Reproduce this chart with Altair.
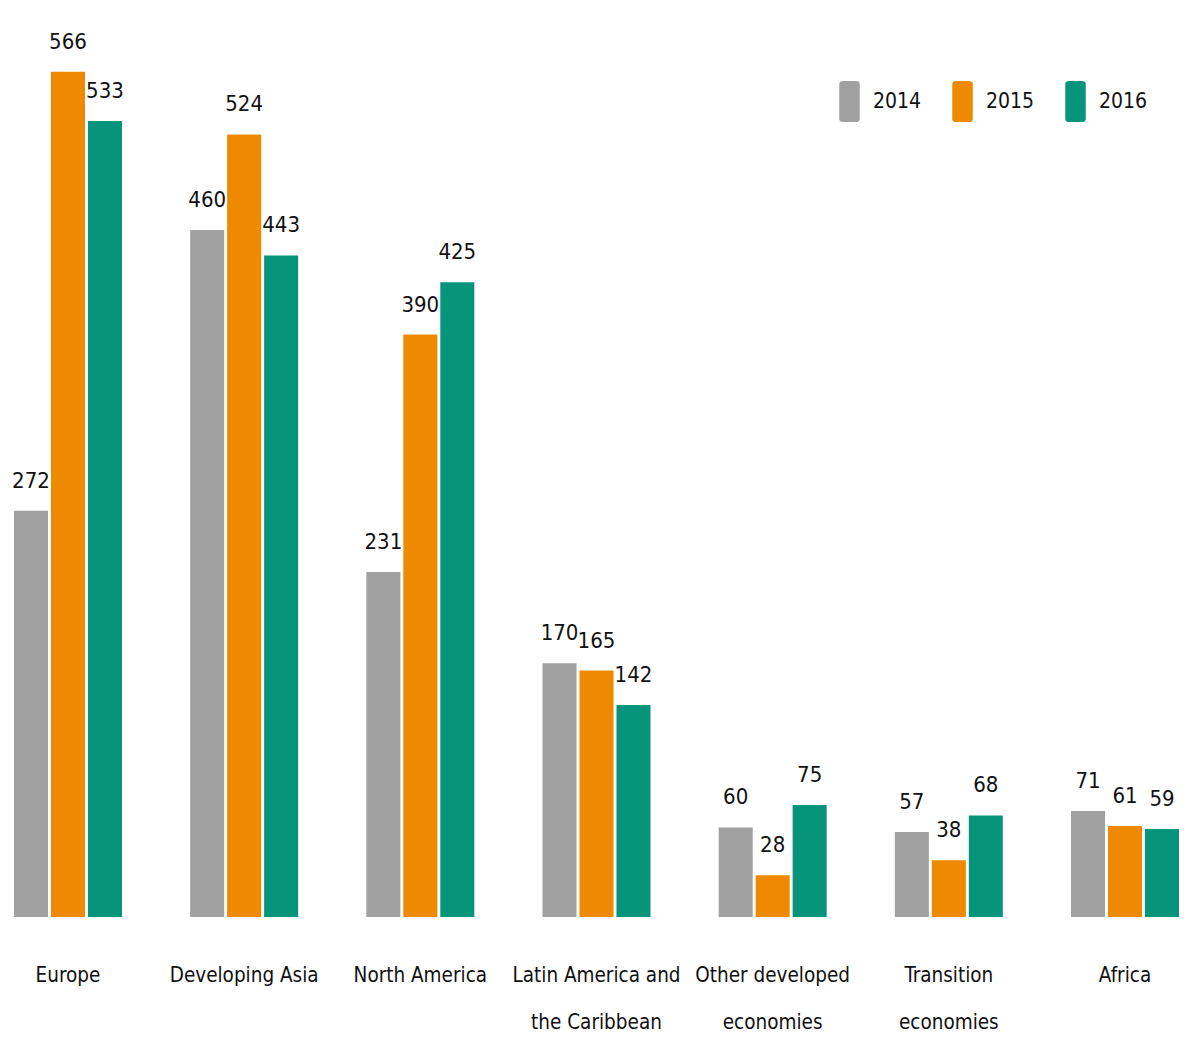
import altair as alt
import pandas as pd

regions = ["Europe", "Developing Asia", "North America",
           "Latin America and|the Caribbean", "Other developed|economies",
           "Transition|economies", "Africa"]
years = ["2014", "2015", "2016"]
v2014 = [272, 460, 231, 170, 60, 57, 71]
v2015 = [566, 524, 390, 165, 28, 38, 61]
v2016 = [533, 443, 425, 142, 75, 68, 59]

rows = []
for i, r in enumerate(regions):
    for y, vals in zip(years, [v2014, v2015, v2016]):
        rows.append({"region": r, "year": y, "value": vals[i]})
df = pd.DataFrame(rows)

FONT = "Liberation Sans Narrow, Arial Narrow, DejaVu Sans Condensed, sans-serif"
colors = ["#a0a0a0", "#ee8900", "#06957a"]

sym = ("M-0.3,-1 L0.3,-1 Q0.5,-1 0.5,-0.85 L0.5,0.85 Q0.5,1 0.3,1 "
       "L-0.3,1 Q-0.5,1 -0.5,0.85 L-0.5,-0.85 Q-0.5,-1 -0.3,-1 Z")

x = alt.X("region:N", sort=regions, title=None,
          scale=alt.Scale(paddingInner=0.387, paddingOuter=0, round=False),
          axis=alt.Axis(domain=False, ticks=False, labelAngle=0,
                        labelExpr="split(datum.label, '|')",
                        labelFont=FONT, labelFontSize=20.5, labelColor="#111",
                        labelLimit=400,
                        labelPadding=48, labelLineHeight=47))
xo = alt.XOffset("year:N", sort=years, scale=alt.Scale(paddingInner=0.08))
y = alt.Y("value:Q", scale=alt.Scale(domain=[0, 600]), axis=None)

base = alt.Chart(df)
bars = base.mark_bar().encode(
    x=x, xOffset=xo, y=y,
    color=alt.Color("year:N", sort=years,
                    scale=alt.Scale(domain=years, range=colors),
                    legend=alt.Legend(title=None, orient="none", direction="horizontal",
                                      legendX=815, legendY=60,
                                      symbolType=sym, symbolSize=1681,
                                      symbolStrokeWidth=0, symbolOpacity=1,
                                      labelFont=FONT, labelFontSize=21,
                                      labelColor="#111", labelOffset=3,
                                      columnPadding=20)),
)
labels = base.mark_text(baseline="bottom", dy=-18, font=FONT, fontSize=22,
                        color="#111").encode(
    x=x, xOffset=xo, y=y, text=alt.Text("value:Q"))

chart = (bars + labels).properties(
    width=1165, height=896,
    autosize=alt.AutoSizeParams(type="none"),
    padding={"left": 6, "top": 13, "right": 0, "bottom": 116},
).configure(background="white").configure_view(stroke=None)

chart.save("out.html", embed_options={"renderer": "svg", "actions": False})
